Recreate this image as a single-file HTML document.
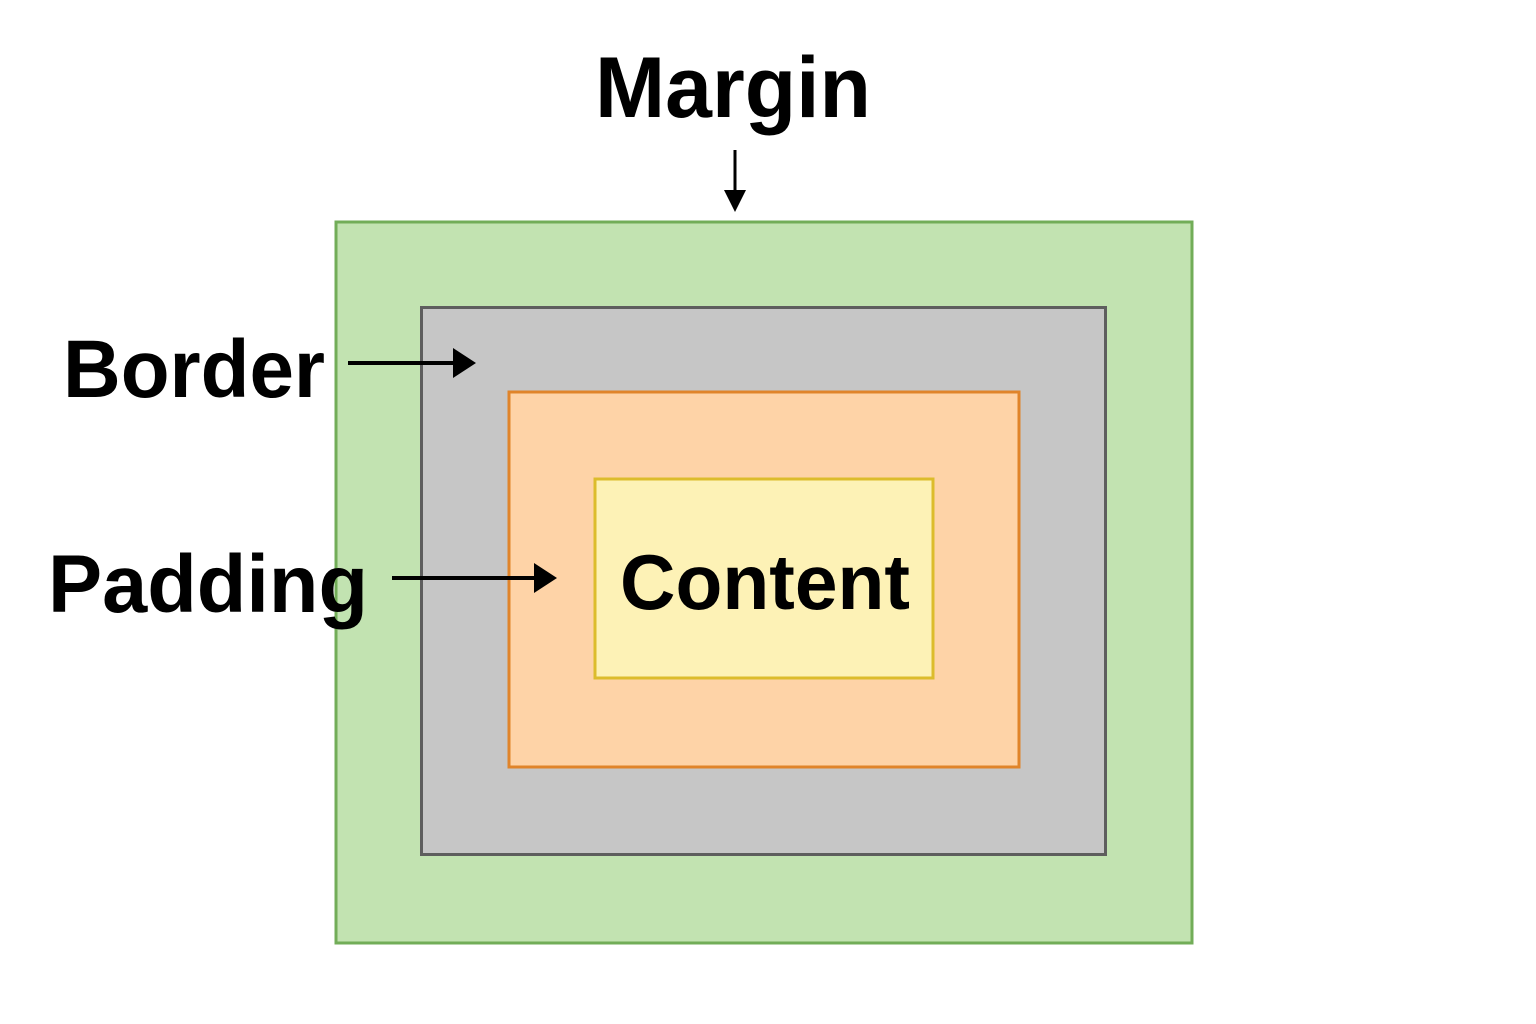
<!DOCTYPE html>
<html><head><style>html,body{margin:0;padding:0;background:#fff;width:1536px;height:1024px;overflow:hidden}</style></head>
<body>
<svg width="1536" height="1024" xmlns="http://www.w3.org/2000/svg" font-family="Liberation Sans, sans-serif" font-weight="bold">
<rect x="336" y="222" width="856" height="721" fill="#c2e3b1" stroke="#72ad58" stroke-width="3"/>
<rect x="421.5" y="307.5" width="684" height="547" fill="#c6c6c6" stroke="#5e5e5e" stroke-width="3"/>
<rect x="509" y="392" width="510" height="375" fill="#fed3a7" stroke="#e0842a" stroke-width="3"/>
<rect x="595" y="479" width="338" height="199" fill="#fdf2b6" stroke="#dcbc2c" stroke-width="3"/>
<text x="595" y="117" font-size="86" textLength="276" lengthAdjust="spacingAndGlyphs">Margin</text>
<text x="63" y="397" font-size="82" textLength="262" lengthAdjust="spacingAndGlyphs">Border</text>
<text x="48" y="612" font-size="82" textLength="320" lengthAdjust="spacingAndGlyphs">Padding</text>
<text x="620" y="609" font-size="78" textLength="290" lengthAdjust="spacingAndGlyphs">Content</text>
<line x1="735" y1="150" x2="735" y2="195" stroke="#000" stroke-width="3"/>
<polygon points="724,190 746,190 735,212" fill="#000"/>
<line x1="348" y1="363" x2="458" y2="363" stroke="#000" stroke-width="4"/>
<polygon points="453,348 476,363 453,378" fill="#000"/>
<line x1="392" y1="578" x2="538" y2="578" stroke="#000" stroke-width="4"/>
<polygon points="534,563 557,578 534,593" fill="#000"/>
</svg>
</body></html>
